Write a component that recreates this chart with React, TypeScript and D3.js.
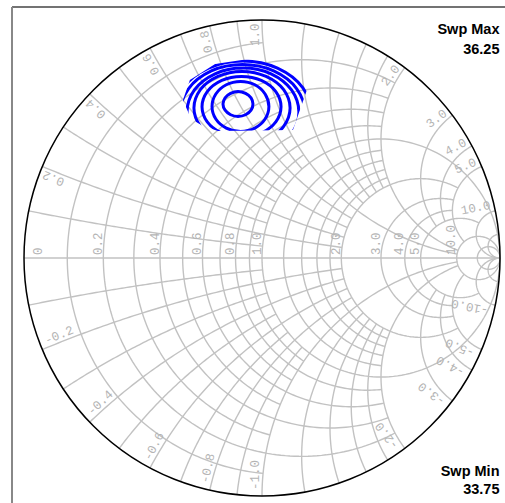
import React from 'react';
import * as d3 from 'd3';

const W = 505;
const H = 503;
const CX = 262;
const CY = 258;
const R = 238;

// constant resistance circles: [r, xFrom, xTo], drawn for +x and -x
const resistanceGrid: [number, number, number][] = [
  [0.1, 0, 1], [0.2, 0, 2], [0.3, 0, 1], [0.4, 0, 2], [0.5, 0, 1],
  [0.6, 0, 2], [0.7, 0, 1], [0.8, 0, 2], [0.9, 0, 1], [1.0, 0, Infinity],
  [1.2, 0, 2], [1.4, 0, 2], [1.6, 0, 2], [1.8, 0, 2], [2.0, 0, 5],
  [3.0, 0, 5], [4.0, 0, 5], [5.0, 0, 10], [10, 0, Infinity], [20, 0, Infinity],
];

// constant reactance arcs: [x, rFrom, rTo], drawn for +x and -x
const reactanceGrid: [number, number, number][] = [
  [0.1, 0, 1], [0.2, 0, 2], [0.3, 0, 1], [0.4, 0, 2], [0.5, 0, 1],
  [0.6, 0, 2], [0.7, 0, 1], [0.8, 0, 2], [0.9, 0, 1], [1.0, 0, 10],
  [1.2, 0, 2], [1.4, 0, 2], [1.6, 0, 2], [1.8, 0, 2], [2.0, 0, 10],
  [3.0, 0, 5], [4.0, 0, 5], [5.0, 0, 10], [10, 0, Infinity], [20, 0, Infinity],
];

const resistanceLabels = [0, 0.2, 0.4, 0.6, 0.8, 1.0, 2.0, 3.0, 4.0, 5.0, 10.0];
const reactanceLabels = [0.2, 0.4, 0.6, 0.8, 1.0, 2.0, 3.0, 4.0, 5.0, 10.0];

// load-pull contours, reflection coefficient [re, im]
const contours: [number, number][][] = [
  [[-0.038, 0.647], [-0.046, 0.673], [-0.069, 0.692], [-0.101, 0.700], [-0.132, 0.692], [-0.155, 0.673],
   [-0.164, 0.647], [-0.155, 0.621], [-0.132, 0.602], [-0.101, 0.595], [-0.069, 0.602], [-0.046, 0.621]],
  [[0.029, 0.637], [0.013, 0.689], [-0.030, 0.728], [-0.090, 0.742], [-0.150, 0.728], [-0.194, 0.689],
   [-0.210, 0.637], [-0.194, 0.584], [-0.150, 0.546], [-0.090, 0.532], [-0.030, 0.546], [0.013, 0.584]],
  [[0.080, 0.636], [0.058, 0.699], [-0.003, 0.746], [-0.086, 0.763], [-0.169, 0.746], [-0.230, 0.699],
   [-0.252, 0.636], [-0.230, 0.572], [-0.169, 0.525], [-0.086, 0.508], [-0.003, 0.525], [0.058, 0.572]],
  [[0.118, 0.630], [0.091, 0.707], [0.017, 0.763], [-0.084, 0.784], [-0.185, 0.763], [-0.259, 0.707],
   [-0.286, 0.630], [-0.259, 0.553], [-0.185, 0.497], [-0.084, 0.476], [0.017, 0.497], [0.091, 0.553]],
  [[0.155, 0.613], [0.124, 0.706], [0.038, 0.774], [-0.080, 0.798], [-0.197, 0.774], [-0.284, 0.706],
   [-0.315, 0.613], [-0.284, 0.521], [-0.197, 0.453], [-0.080, 0.429], [0.038, 0.453], [0.124, 0.521]],
  [[0.181, 0.609], [0.146, 0.711], [0.049, 0.786], [-0.082, 0.813], [-0.213, 0.786], [-0.309, 0.711],
   [-0.345, 0.609], [-0.309, 0.507], [-0.213, 0.433], [-0.082, 0.405], [0.049, 0.433], [0.146, 0.507]],
  [[0.210, 0.605], [0.171, 0.716], [0.065, 0.798], [-0.080, 0.828], [-0.225, 0.798], [-0.331, 0.716],
   [-0.370, 0.605], [-0.331, 0.494], [-0.225, 0.412], [-0.080, 0.382], [0.065, 0.412], [0.171, 0.494]],
];

// region covered by the measured load points
const dataHull: [number, number][] = [
  [-0.332, 0.664], [-0.303, 0.748], [-0.197, 0.815], [0.0, 0.845], [0.126, 0.840],
  [0.218, 0.790], [0.130, 0.538], [-0.185, 0.534], [-0.248, 0.555], [-0.298, 0.584],
];

const sweepMax = '36.25';
const sweepMin = '33.75';

const gamma = (r: number, x: number): [number, number] => {
  if (!isFinite(r) || !isFinite(x)) return [1, 0];
  const den = (r + 1) * (r + 1) + x * x;
  return [(r * r + x * x - 1) / den, (2 * x) / den];
};

const sx = d3.scaleLinear().domain([-1, 1]).range([CX - R, CX + R]);
const sy = d3.scaleLinear().domain([-1, 1]).range([CY + R, CY - R]);
const line = d3.line<[number, number]>().x(d => sx(d[0])).y(d => sy(d[1]));

const sampleArc = (c: [number, number], rad: number, a0: number, a1: number, sign: number) => {
  const pts: [number, number][] = [];
  const n = 90;
  for (let i = 0; i <= n; i++) {
    const a = a0 + ((a1 - a0) * i) / n;
    pts.push([c[0] + rad * Math.cos(a), sign * (c[1] + rad * Math.sin(a))]);
  }
  return pts;
};

const resistancePath = (r: number, x0: number, x1: number, sign: number) => {
  const c = r / (1 + r);
  const rad = 1 / (1 + r);
  const g0 = gamma(r, x0);
  const g1 = gamma(r, x1);
  const a0 = Math.atan2(g0[1], g0[0] - c);
  const a1 = Math.atan2(g1[1], g1[0] - c);
  return line(sampleArc([c, 0], rad, a0, a1, sign)) || '';
};

const reactancePath = (x: number, r0: number, r1: number, sign: number) => {
  const c: [number, number] = [1, 1 / x];
  const rad = 1 / x;
  const g0 = gamma(r0, x);
  const g1 = gamma(r1, x);
  const a0 = Math.atan2(g0[1] - c[1], g0[0] - c[0]);
  const a1 = Math.atan2(g1[1] - c[1], g1[0] - c[0]);
  let d = a1 - a0;
  while (d > Math.PI) d -= 2 * Math.PI;
  while (d <= -Math.PI) d += 2 * Math.PI;
  return line(sampleArc(c, rad, a0, a0 + d, sign)) || '';
};

const fmt = (v: number) => (v === 0 ? '0' : v.toFixed(1));

const gridColor = '#c2c2c2';
const labelColor = '#b4b4b4';
const monoFont = '"Liberation Mono", "DejaVu Sans Mono", monospace';

export default function App() {
  const contourLine = d3
    .line<[number, number]>()
    .x(d => sx(d[0]))
    .y(d => sy(d[1]))
    .curve(d3.curveCatmullRomClosed);

  const hullPath = line(dataHull) + 'Z';

  const reactanceLabel = (v: number, sign: number) => {
    const g = gamma(0, sign * v);
    const th = Math.atan2(g[1], g[0]);
    const ux = Math.cos(th);
    const uy = Math.sin(th);
    // offset to the side of the arc facing the open end of the real axis
    const px = -uy * sign;
    const py = ux * sign;
    const off = 3;
    const rr = sign > 0 ? 0.985 : 0.975;
    const gx = rr * ux + (off / R) * px;
    const gy = rr * uy + (off / R) * py;
    const deg = (th * 180) / Math.PI;
    const rot = sign > 0 ? -deg : -(deg + 180);
    const label = sign > 0 ? fmt(v) : '-' + fmt(v);
    return (
      <text
        key={`xl${sign}${v}`}
        transform={`translate(${sx(gx)},${sy(gy)}) rotate(${rot})`}
        textAnchor={sign > 0 ? 'end' : 'start'}
        fontFamily={monoFont}
        fontSize={12.5}
        fill={labelColor}
      >
        {label}
      </text>
    );
  };

  return (
    <svg width={W} height={H} style={{ position: 'absolute', left: 0, top: 0 }}>
      <rect x={0} y={0} width={W} height={H} fill="#fff" />
      <line x1={12} y1={7} x2={W} y2={7} stroke="#444" strokeWidth={1.3} />
      <line x1={12} y1={7} x2={12} y2={H} stroke="#888" strokeWidth={2} />

      <g fill="none" stroke={gridColor} strokeWidth={1.4}>
        <line x1={sx(-1)} y1={sy(0)} x2={sx(1)} y2={sy(0)} />
        {resistanceGrid.map(([r, a, b]) =>
          [1, -1].map(s => <path key={`r${r}${s}`} d={resistancePath(r, a, b, s)} />)
        )}
        {reactanceGrid.map(([x, a, b]) =>
          [1, -1].map(s => <path key={`x${x}${s}`} d={reactancePath(x, a, b, s)} />)
        )}
      </g>

      <g>
        {resistanceLabels.map(v => {
          const px = v === 0 ? sx(-1) + 18 : sx(gamma(v, 0)[0]) - 1.5;
          return (
            <text
              key={`rl${v}`}
              transform={`translate(${px},${sy(0) - 3}) rotate(-90)`}
              fontFamily={monoFont}
              fontSize={12.5}
              fill={labelColor}
            >
              {fmt(v)}
            </text>
          );
        })}
        {reactanceLabels.map(v => reactanceLabel(v, 1))}
        {reactanceLabels.map(v => reactanceLabel(v, -1))}
      </g>

      <circle cx={sx(0)} cy={sy(0)} r={R} fill="none" stroke="#000" strokeWidth={1.5} />

      <defs>
        <clipPath id="hull">
          <path d={hullPath} />
        </clipPath>
      </defs>
      <g clipPath="url(#hull)" fill="none" stroke="#0000ff" strokeWidth={3} strokeLinecap="round">
        {contours.map((c, i) => (
          <path key={`c${i}`} d={contourLine(c) || ''} />
        ))}
      </g>

      <g fontFamily='"Liberation Sans", Arial, sans-serif' fontWeight="bold" fontSize={14.5} textAnchor="end">
        <text x={499.5} y={34}>Swp Max</text>
        <text x={499.5} y={54}>{sweepMax}</text>
        <text x={499.5} y={476}>Swp Min</text>
        <text x={499.5} y={493.5}>{sweepMin}</text>
      </g>
    </svg>
  );
}
